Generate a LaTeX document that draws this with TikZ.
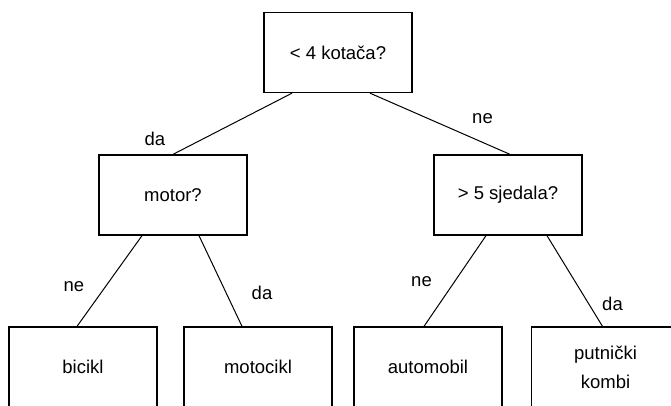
\documentclass[tikz,border=0pt]{standalone}
\usepackage{fontspec}
\setmainfont{Liberation Sans}
\usetikzlibrary{calc}
\tikzset{
  every box/.style={draw,line width=1.3pt},
  every branch/.style={draw,line width=1pt},
}

\begin{document}
\begin{tikzpicture}[
  x=1pt,y=-1pt,
  box/.style={every box,minimum width=148pt,minimum height=80pt,inner sep=0pt,
    align=center,font=\fontsize{18.5}{29}\selectfont},
  branch/.style={every branch},
  answer/.style={font=\fontsize{18.5}{22}\selectfont}
]
\useasboundingbox (0,0) rectangle (671,405);
\clip (0,0) rectangle (671,405);
% questions
\node[box] (wheels) at (338,52.5) {< 4 kotača?};
\node[box] (motor) at (173,195) {motor?};
\node[box] (seats) at (508,195) {> 5 sjedala?};
% leaves
\node[box] (bike) at (83,367) {bicikl};
\node[box] (moto) at (258,367) {motocikl};
\node[box] (car) at (428,367) {automobil};
\node[box] (van) at (605.5,367) {putnički\\kombi};
% branches
\foreach \a/\da/\b/\db in {wheels/-46/motor/0,wheels/32/seats/2,
    motor/-31/bike/-6,motor/26/moto/-16,seats/-22/car/-4,seats/39/van/-3} {
  \draw[branch] ($(\a.south)+(\da,0)$) -- ($(\b.north)+(\db,0)$);
}
\node[answer] (yes1) at (155,139) {da};
\node[answer] (no1) at (482.5,119) {ne};
\node[answer] (no2) at (74,286.5) {ne};
\node[answer] (yes2) at (262,293) {da};
\node[answer] (no3) at (421.5,281.5) {ne};
\node[answer] (yes3) at (612.5,304) {da};
\end{tikzpicture}
\end{document}
